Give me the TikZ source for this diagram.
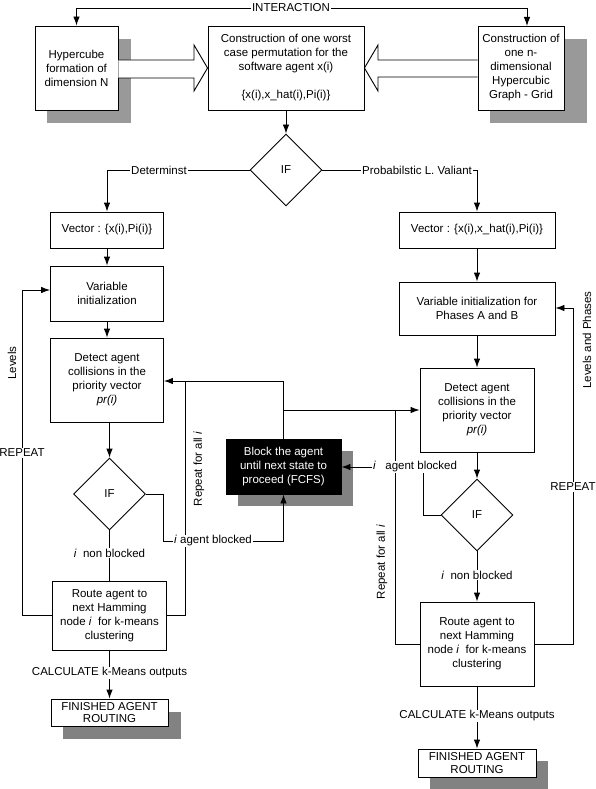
\documentclass[tikz,border=0pt]{standalone}
\usepackage{fontspec}
\setmainfont{Liberation Sans}
\usetikzlibrary{shapes.geometric,arrows.meta,calc,backgrounds}
\definecolor{shA}{RGB}{153,153,153}
\definecolor{shB}{RGB}{130,130,130}
\begin{document}
\begin{tikzpicture}[x=1pt,y=-1pt,
  font=\fontsize{11.5}{14}\selectfont,
  every node/.style={inner sep=0pt},
  box/.style={draw, fill=white, line width=0.9pt, align=center},
  dia/.style={draw, fill=white, diamond, line width=0.9pt, minimum width=72pt, minimum height=72pt},
  ln/.style={line width=0.9pt},
  arr/.style={ln, -{Latex[length=9pt,width=6.5pt]}},
  lab/.style={fill=white, inner sep=1pt},
  rot/.style={rotate=90, inner sep=1pt}
]
\useasboundingbox (0,0) rectangle (595,789);

% ---- top row
\node[box, minimum width=83pt, minimum height=84pt] (hyp) at (76.5,68) {Hypercube\\formation of\\dimension N};
\node[box, minimum width=156pt, minimum height=84pt] (cons) at (286,68) {Construction of one worst\\case permutation for the\\software agent x(i)\\[14pt]\{x(i),x\_hat(i),Pi(i)\}};
\node[box, minimum width=86pt, minimum height=84pt] (grid) at (521,68) {Construction of\\one n-\\dimensional\\Hypercubic\\Graph - Grid};

\node[dia] (if1) at (286,170) {IF};

% ---- left column
\node[box, minimum width=113pt, minimum height=36pt] (vecL) at (107,230) {Vector : \{x(i),Pi(i)\}};
\node[box, minimum width=113pt, minimum height=55pt] (varL) at (107,293.5) {Variable\\initialization};
\node[box, minimum width=113pt, minimum height=84pt] (detL) at (107,380) {Detect agent\\collisions in the\\priority vector\\\textit{pr(i)}};
\node[dia] (ifL) at (109.5,494) {IF};
\node[box, minimum width=114pt, minimum height=69pt] (routeL) at (109.5,615.5) {Route agent to\\next Hamming\\node \textit{i}~ for k-means\\clustering};
\node[box, minimum width=117pt, minimum height=27pt, font=\fontsize{11.5}{12.5}\selectfont] (finL) at (109.5,712.5) {FINISHED AGENT\\ROUTING};

% ---- right column
\node[box, minimum width=156pt, minimum height=36pt] (vecR) at (477,230) {Vector : \{x(i),x\_hat(i),Pi(i)\}};
\node[box, minimum width=156pt, minimum height=53pt] (varR) at (477,308.5) {Variable initialization for\\Phases A and B};
\node[box, minimum width=114pt, minimum height=84pt] (detR) at (477,410) {Detect agent\\collisions in the\\priority vector\\\textit{pr(i)}};
\node[dia] (ifR) at (477,515) {IF};
\node[box, minimum width=114pt, minimum height=84pt] (routeR) at (477,644) {Route agent to\\next Hamming\\node \textit{i}~ for k-means\\clustering};
\node[box, minimum width=118pt, minimum height=28pt, font=\fontsize{11.5}{12.5}\selectfont] (finR) at (477,763) {FINISHED AGENT\\ROUTING};

% ---- middle block
\node[box, fill=black, text=white, minimum width=115pt, minimum height=55pt] (blk) at (283.5,466.5) {Block the agent\\until next state to\\proceed (FCFS)};

% ---- shadows
\begin{scope}[on background layer]
\fill[shA] ($(hyp.south west)+(12,13)$) rectangle ($(hyp.north east)+(13,13)$);
\fill[shA] ($(grid.south west)+(12,13)$) rectangle ($(grid.north east)+(23,13)$);
\fill[shB] ($(blk.south west)+(12,12)$) rectangle ($(blk.north east)+(12,12)$);
\fill[shB] ($(finL.south west)+(12,13)$) rectangle ($(finL.north east)+(13,13)$);
\fill[shB] ($(finR.south west)+(12,12)$) rectangle ($(finR.north east)+(12,12)$);
\end{scope}

% ---- hollow arrows
\draw[ln, fill=white] (hyp.east |- 0,60) -- (194,60) -- (194,45) -- (cons.west |- 0,68) -- (194,91) -- (194,78) -- (hyp.east |- 0,78);
\draw[ln, fill=white] (grid.west |- 0,60) -- (378,60) -- (378,45) -- (cons.east |- 0,68) -- (378,91) -- (378,77) -- (grid.west |- 0,77);

% ---- interaction
\node[lab] (inter) at (291,8) {INTERACTION};
\coordinate (gridin) at (527,26);
\draw[arr] (inter.west) -| (hyp.north);
\draw[arr] (inter.east) -| (gridin);

% ---- branches
\draw[arr] (cons.south) -- (if1.north);
\draw[arr] (if1.west) -| (vecL.north);
\node[lab] at (159,170) {Determinst};
\draw[arr] (if1.east) -| (vecR.north);
\node[lab] at (417,170) {Probabilstic L. Valiant};

% ---- left flow
\draw[arr] (vecL) -- (varL);
\draw[arr] (varL) -- (detL);
\draw[arr] (detL.south -| ifL.north) -- (ifL.north);
\draw[ln] (ifL.south) -- (routeL.north);
\node[lab] at (109.5,553) {\textit{i}~ non blocked};
\draw[arr] (routeL.south) -- (finL.north);
\node[lab] at (109.5,673) {CALCULATE k-Means outputs};

\coordinate (kE) at (22,290);
\draw[arr] (routeL.west) -| (kE) -- (varL.west |- kE);
\node[lab] at (22,453) {REPEAT};
\node[rot] at (12,363) {Levels};

\coordinate (jA) at (283.5,381);
\coordinate (jB) at (283.5,410);
\coordinate (jC) at (185,381);
\draw[arr] (blk.north) -- (jA) -- (detL.east |- jA);
\draw[ln] (routeL.east) -| (jC);
\node[rot] at (199,469) {Repeat for all \textit{i}};

\coordinate (kB) at (163,541);
\draw[arr] (ifL.east) -| (kB) -| (blk.south);
\node[lab] at (213,541) {\textit{i} agent blocked};

% ---- right flow
\draw[arr] (vecR) -- (varR);
\draw[arr] (varR) -- (detR);
\draw[arr] (detR) -- (ifR);
\draw[arr] (ifR) -- (routeR);
\node[lab] at (477,575) {\textit{i}~ non blocked};
\draw[arr] (routeR.south) -- (finR.north);
\node[lab] at (477,716) {CALCULATE k-Means outputs};

\coordinate (kD) at (573,308);
\draw[arr] (routeR.east) -| (kD) -- (varR.east |- kD);
\node[lab] at (573,487) {REPEAT};
\node[rot] at (587,340) {Levels and Phases};

\coordinate (jD) at (395,410);
\draw[arr] (jB) -- (detR.west |- jB);
\draw[ln] (routeR.west) -| (jD);
\node[rot] at (382,562) {Repeat for all \textit{i}};

\coordinate (kC) at (423,467);
\draw[arr] (ifR.west) -| (kC) -- (blk.east |- kC);
\node[lab] at (415,467) {\textit{i}~~ agent blocked};
\end{tikzpicture}
\end{document}
